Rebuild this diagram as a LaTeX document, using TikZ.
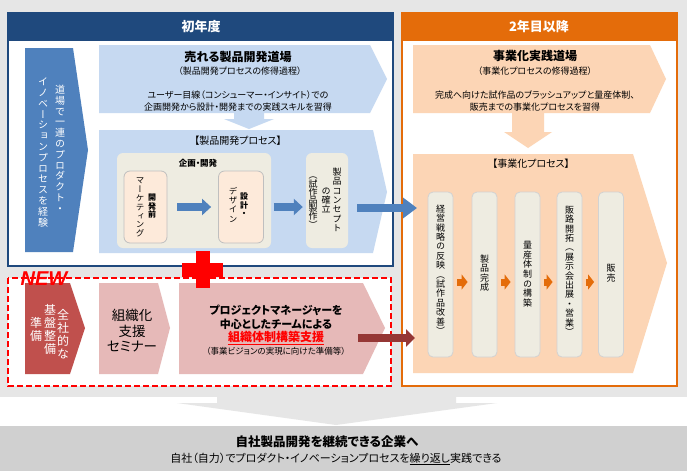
\documentclass[tikz,border=0pt]{standalone}
\usepackage{fontspec}
\setmainfont{Noto Sans CJK JP}[RawFeature=+palt]
\newfontfamily\vjp{Noto Sans CJK JP}[RawFeature=+vert]
\newfontfamily\latinb{Liberation Sans}
\usetikzlibrary{arrows.meta}
\definecolor{cNavy}{HTML}{1F497D}
\definecolor{cLBlue}{HTML}{C6D9F1}
\definecolor{cSteel}{HTML}{4F81BD}
\definecolor{cBeige}{HTML}{EEECE1}
\definecolor{cPeach}{HTML}{FDEADA}
\definecolor{cBoxLine}{HTML}{BFBFBF}
\definecolor{cOrange}{HTML}{E46C0A}
\definecolor{cLOrange}{HTML}{FCD5B5}
\definecolor{cDRed}{HTML}{C0504D}
\definecolor{cPink}{HTML}{E6B9B8}
\definecolor{cArrowRed}{HTML}{953735}
\definecolor{cBg}{HTML}{E6E6E6}
\definecolor{cBand}{HTML}{D0D0D0}
\definecolor{cRed}{HTML}{FF0000}
\def\vcolloop#1{\ifx#1\relax\else\hbox to 1.1em{\hss\vrule height .88em depth .12em width 0pt\relax#1\hss}\expandafter\vcolloop\fi}
\newcommand\vcol[2]{\vbox{\vjp\baselineskip=#1\relax\lineskiplimit=-100pt\lineskip=0pt\vcolloop#2\relax}}
\begin{document}
\begin{tikzpicture}[x=1pt,y=-1pt,
  txt/.style={inner sep=0pt},
  fs/.style={font=\fontsize{#1}{#1}\selectfont},
  bfs/.style={font=\bfseries\fontsize{#1}{#1}\selectfont},
  beigebox/.style={fill=cBeige, draw=none, rounded corners=6pt, inner sep=0pt},
  peachbox/.style={fill=cPeach, draw=cBoxLine, line width=0.8pt, rounded corners=6pt, inner sep=0pt},
  graybox/.style={fill=cBeige, draw=cBoxLine!70, line width=0.8pt, rounded corners=5pt, inner sep=0pt},
  fatblue/.style={draw=cSteel, line width=8pt, -{Triangle[width=16pt,length=9pt]}},
  fatbluebig/.style={draw=cSteel, line width=8pt, -{Triangle[width=20pt,length=14pt]}},
  fatred/.style={draw=cArrowRed, line width=8pt, -{Triangle[width=17pt,length=9pt]}},
  fatorange/.style={draw=cOrange, line width=7pt, -{Triangle[width=15pt,length=6pt]}},
]
\useasboundingbox (0,0) rectangle (687,471);
\fill[white] (0,0) rectangle (687,471);
\fill[cBg] (0,0) rectangle (687,397);
\fill[cBand] (0,426) rectangle (687,471);
\fill[cBg] (217,396) -- (456,396) -- (456,403) -- (497,403) -- (336,425) -- (177,403) -- (217,403) -- cycle;

% ---------- left panel ----------
\fill[white] (8,13) rectangle (393,266);
\fill[cNavy] (8,13) rectangle (393,41);
\draw[cNavy, line width=2pt] (8,13) rectangle (393,266);
\node[txt, bfs=13, text=white] (h1) at (201,27) {初年度};

\fill[cSteel] (25,48) -- (73,48) -- (88,150) -- (73,252) -- (25,252) -- cycle;
\node[txt, fs=10, text=white] (va1) at (60,149) {\vcol{10.8pt}{道場で一連のプロダクト・}};
\node[txt, fs=10, text=white] (va2) at (43,152) {\vcol{10.8pt}{イノベーションプロセスを経験}};

\fill[cLBlue] (99,45) -- (370,45) -- (387,79) -- (370,113) -- (99,113) -- cycle;
\node[txt, bfs=12] (lt1) at (238,57) {売れる製品開発道場};
\node[txt, fs=9] (lt2) at (240,71) {（製品開発プロセスの修得過程）};
\node[txt, fs=9] (lt3) at (238,95) {ユーザー目線（コンシューマー・インサイト）での};
\node[txt, fs=9] (lt4) at (238,107) {企画開発から設計・開発までの実践スキルを習得};
\fill[cLBlue] (234,112) -- (264,112) -- (264,119) -- (274,119) -- (249,129) -- (224,119) -- (234,119) -- cycle;

\fill[cLBlue] (99,130) -- (373,130) -- (387,192) -- (373,253) -- (99,253) -- cycle;
\node[txt, fs=10] (pt) at (238,141) {【製品開発プロセス】};
\node[beigebox, minimum width=154pt, minimum height=95pt] (kk) at (194,200.5) {};
\node[txt, bfs=8.5] (kkt) at (198,163) {企画・開発};
\node[peachbox, minimum width=43pt, minimum height=72pt] (mk) at (145.5,207) {};
\node[peachbox, minimum width=45pt, minimum height=72pt] (sk) at (241,207) {};
\node[beigebox, minimum width=42pt, minimum height=95pt] (gc) at (327,200.5) {};
\node[txt, bfs=8] (mk1) at (152,206) {\vcol{8.4pt}{開発前}};
\node[txt, fs=8.5] (mk2) at (140,207) {\vcol{8.8pt}{マーケティング}};
\node[txt, bfs=8] (sk1) at (244,205) {\vcol{8.4pt}{設計・}};
\node[txt, fs=8.5] (sk2) at (233,205) {\vcol{9.2pt}{デザイン}};
\node[txt, fs=9] (gc1) at (337,200) {\vcol{9.4pt}{製品コンセプト}};
\node[txt, fs=9] (gc2) at (326,200) {\vcol{9.4pt}{の確立}};
\node[txt, fs=9] (gc3) at (313,200) {\vcol{8.2pt}{（試作品製作）}};
\draw[fatblue, shorten <=10pt, shorten >=7pt] (mk.east) -- (sk.west);
\draw[fatblue, shorten <=10pt, shorten >=3pt] (sk.east) -- (sk.east -| gc.west);

% ---------- right panel ----------
\fill[white] (402,13) rectangle (677,386);
\fill[cOrange] (402,13) rectangle (677,41);
\draw[cOrange, line width=2.5pt] (402,13) rectangle (677,386);
\node[txt, bfs=13, text=white] (h2) at (539,27) {2年目以降};

\fill[cLOrange] (413,45) -- (650,45) -- (666,79) -- (650,113) -- (413,113) -- cycle;
\node[txt, bfs=12] (rt1) at (535,56) {事業化実践道場};
\node[txt, fs=9] (rt2) at (535,71) {（事業化プロセスの修得過程）};
\node[txt, fs=9] (rt3) at (535,95) {完成へ向けた試作品のブラッシュアップと量産体制、};
\node[txt, fs=9] (rt4) at (535,107) {販売までの事業化プロセスを習得};
\fill[cLOrange] (512,112) -- (544,112) -- (544,132) -- (552,132) -- (528,148) -- (504,132) -- (512,132) -- cycle;

\fill[cLOrange] (413,154) -- (633,154) -- (667,263) -- (633,373) -- (413,373) -- cycle;
\node[txt, fs=10] (rpt) at (531,164) {【事業化プロセス】};
\node[graybox, minimum width=25pt, minimum height=165pt] (b1) at (440.5,274.5) {};
\node[graybox, minimum width=25pt, minimum height=165pt] (b2) at (484.5,274.5) {};
\node[graybox, minimum width=25pt, minimum height=165pt] (b3) at (527.5,274.5) {};
\node[graybox, minimum width=25pt, minimum height=165pt] (b4) at (569.5,274.5) {};
\node[graybox, minimum width=25pt, minimum height=165pt] (b5) at (611,274.5) {};
\node[txt, fs=9] (b1t) at (440.5,270) {\vcol{9.4pt}{経営戦略の反映（試作品改善）}};
\node[txt, fs=9] (b2t) at (484.5,273) {\vcol{9.4pt}{製品完成}};
\node[txt, fs=9] (b3t) at (527.5,274) {\vcol{9.6pt}{量産体制の構築}};
\node[txt, fs=9] (b4t) at (569.5,271) {\vcol{9.4pt}{販路開拓（展示会出展・営業）}};
\node[txt, fs=9] (b5t) at (611,273) {\vcol{9.4pt}{販売}};
\draw[fatorange, shorten <=4pt, shorten >=4pt] ([yshift=-7.5pt]b1.east) -- ([yshift=-7.5pt]b2.west);
\draw[fatorange, shorten <=4pt, shorten >=4pt] ([yshift=-7.5pt]b2.east) -- ([yshift=-7.5pt]b3.west);
\draw[fatorange, shorten <=4pt, shorten >=4pt] ([yshift=-7.5pt]b3.east) -- ([yshift=-7.5pt]b4.west);
\draw[fatorange, shorten <=4pt, shorten >=4pt] ([yshift=-7.5pt]b4.east) -- ([yshift=-7.5pt]b5.west);

% ---------- NEW row ----------
\fill[white] (8,278) rectangle (391,386);
\draw[cRed, line width=2pt, dash pattern=on 6pt off 3pt] (8,278) rectangle (391,386);
\fill[cDRed] (25,283) -- (70,283) -- (85,328) -- (70,374) -- (25,374) -- cycle;
\node[txt, fs=12, text=white] (n1) at (63,334) {\vcol{13pt}{全社的な}};
\node[txt, fs=12, text=white] (n2) at (50,329) {\vcol{13pt}{基盤整備}};
\node[txt, fs=12, text=white] (n3) at (36,329) {\vcol{13pt}{準備}};
\fill[cPink] (99,283) -- (158,283) -- (170,328) -- (158,374) -- (99,374) -- cycle;
\node[txt, fs=13.5] (s1) at (132,315) {組織化};
\node[txt, fs=13.5] (s2) at (132,331) {支援};
\node[txt, fs=13.5] (s3) at (132,347) {セミナー};
\fill[cPink] (179,283) -- (363,283) -- (385,328) -- (363,374) -- (179,374) -- cycle;
\node[txt, bfs=11] (p1) at (276,310) {プロジェクトマネージャーを};
\node[txt, bfs=11] (p2) at (276,324) {中心としたチームによる};
\node[txt, bfs=12] (p3) at (276,337.5) {\color{cRed}\underline{組織体制構築支援}};
\node[txt, fs=8.5] (p4) at (276,351) {（事業ビジョンの実現に向けた準備等）};

% ---------- connectors ----------
\coordinate (pa) at (357,208);
\coordinate (pb) at (417,208);
\draw[fatbluebig] (pa) -- (pb);
\coordinate (ra) at (358,338);
\coordinate (rb) at (415,338);
\draw[fatred] (ra) -- (rb);

% plus and NEW
\fill[cRed] (196,251) rectangle (210,288);
\fill[cRed] (182,263) rectangle (223,277);
\node[txt, font=\latinb\bfseries\itshape\fontsize{20}{20}\selectfont, text=cRed] (new) at (44,278.5) {NEW};

% bottom
\node[txt, bfs=12.5] (f1) at (327,442) {自社製品開発を継続できる企業へ};
\node[txt, fs=11] (f2) at (336,459) {自社（自力）でプロダクト・イノベーションプロセスを\underline{繰り返し}実践できる};
\end{tikzpicture}
\end{document}
